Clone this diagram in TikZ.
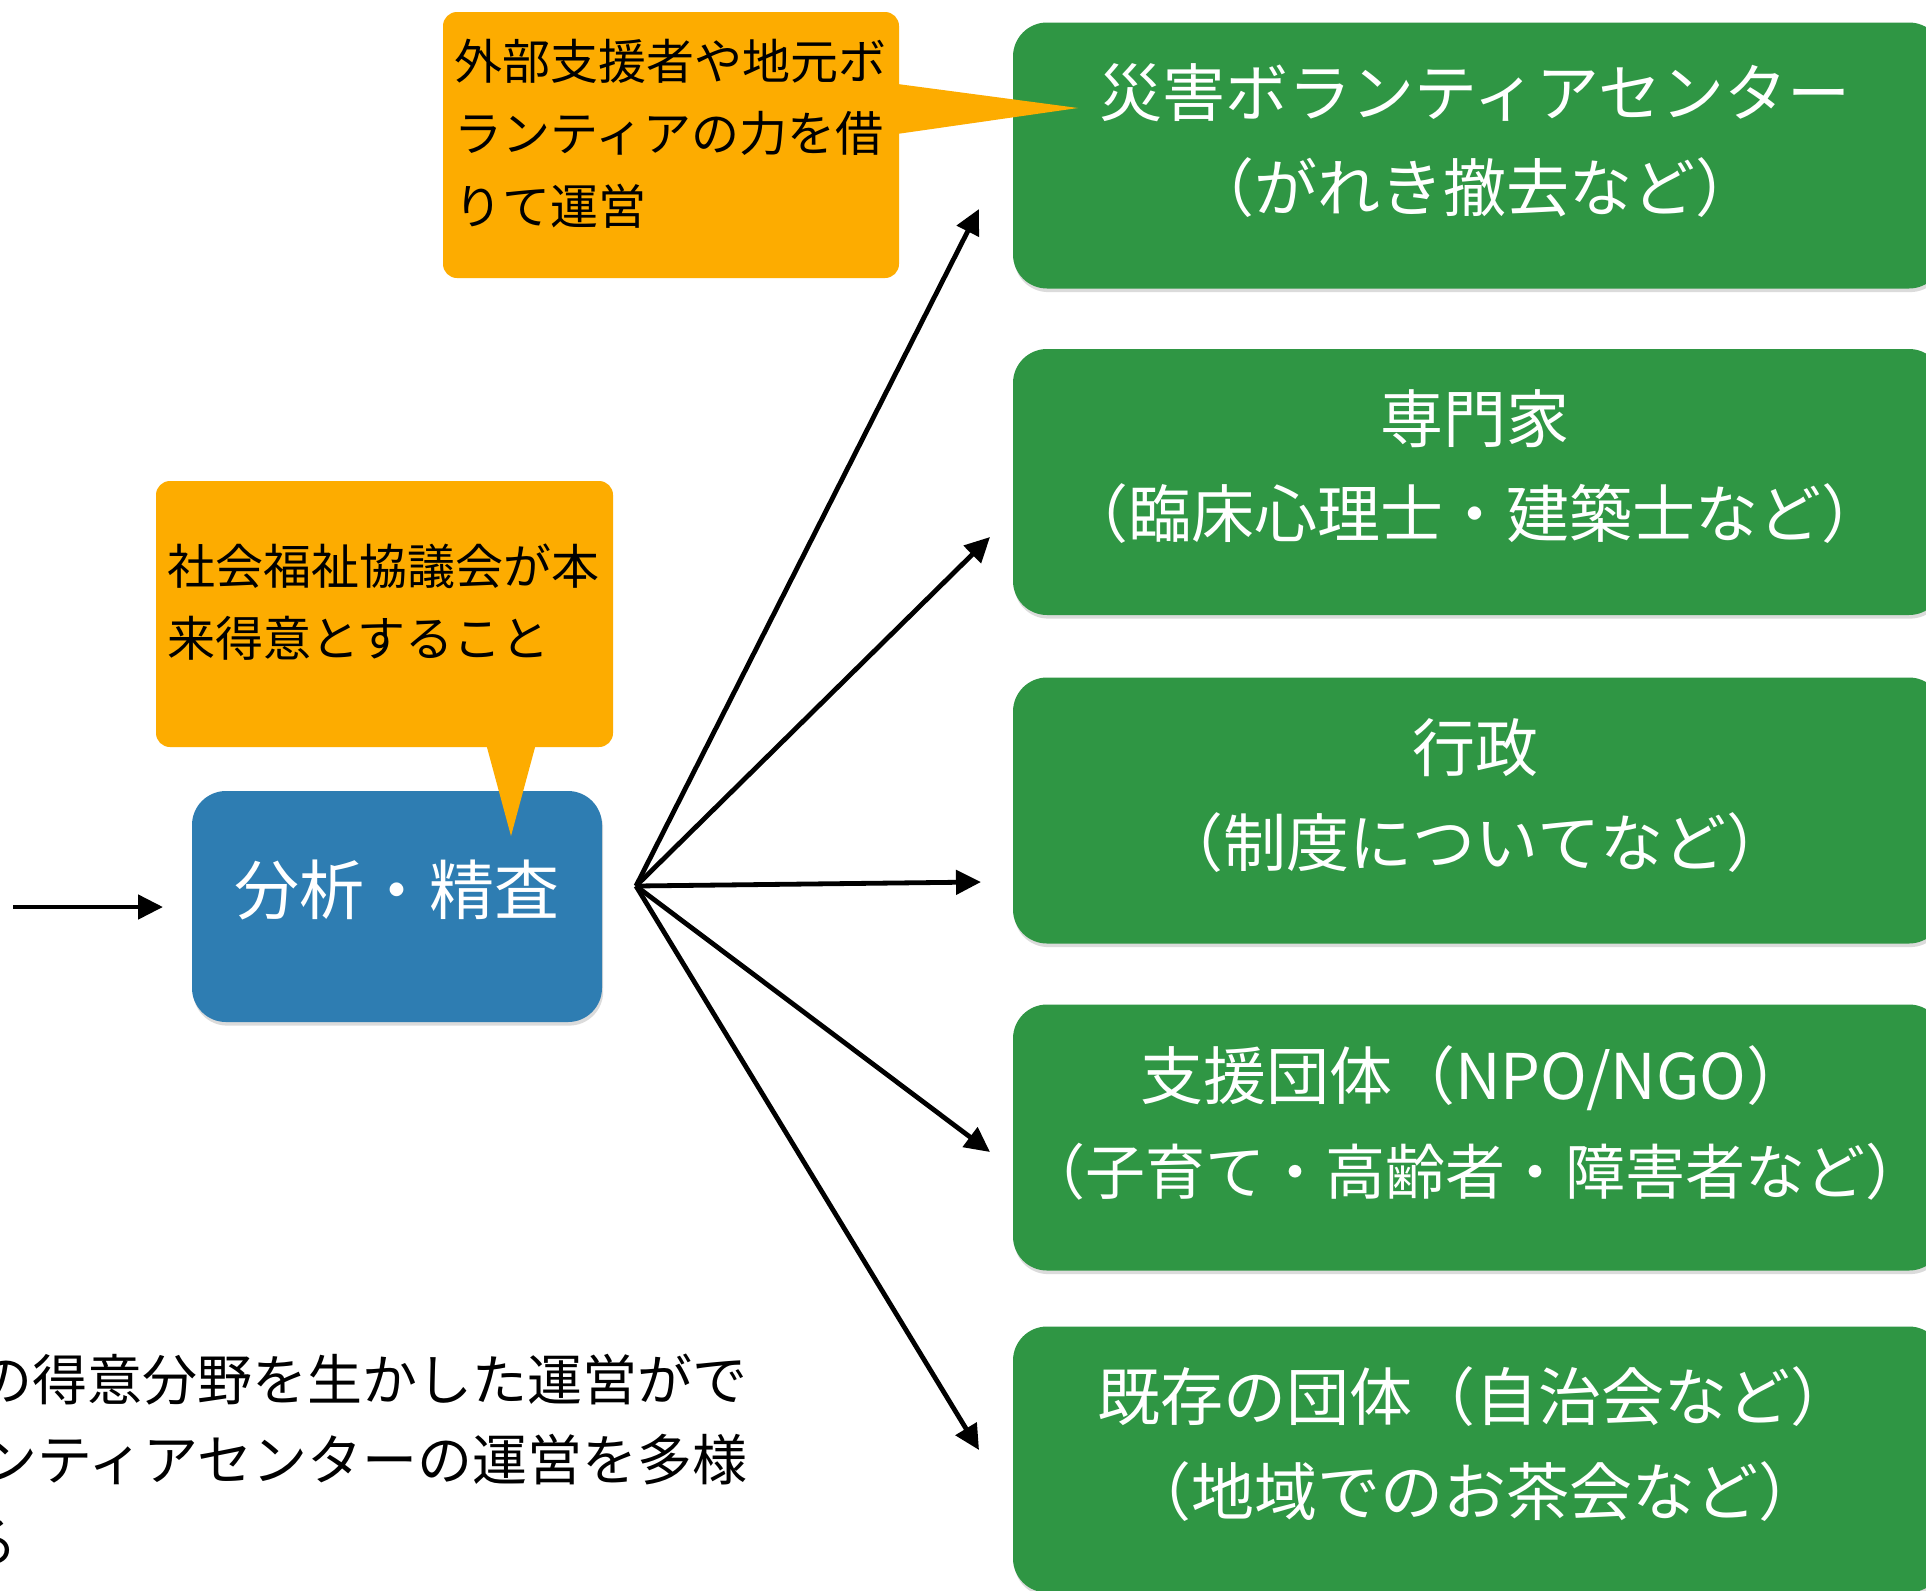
\documentclass[tikz,border=0pt]{standalone}
\usepackage{fontspec}
\setmainfont{Noto Sans CJK JP}
\usetikzlibrary{arrows.meta,shadows}
\definecolor{boxgreen}{RGB}{47,150,68}
\definecolor{boxblue}{RGB}{46,125,178}
\definecolor{callorange}{RGB}{253,172,0}
\tikzset{
  gbox/.style={rectangle, rounded corners=17pt, fill=boxgreen, minimum width=465pt,
    minimum height=133pt, inner sep=0pt,
    drop shadow={shadow xshift=0.6pt, shadow yshift=-1.8pt, opacity=0.28}},
  gtext/.style={text=white, align=center, inner sep=0pt,
    font=\fontsize{31.5pt}{47.5pt}\selectfont},
  bbox/.style={rectangle, rounded corners=17pt, fill=boxblue, minimum width=205pt,
    minimum height=115.5pt, inner sep=0pt,
    drop shadow={shadow xshift=0.6pt, shadow yshift=-1.8pt, opacity=0.28}},
  btxt/.style={text=white, inner sep=0pt, font=\fontsize{32.5pt}{40pt}\selectfont},
  obox/.style={rectangle, rounded corners=7pt, fill=callorange, minimum width=228pt,
    minimum height=133pt, inner sep=0pt},
  otext/.style={text=black, align=left, inner sep=0pt, anchor=west,
    font=\fontsize{24pt}{36.25pt}\selectfont},
  plain/.style={text=black, inner sep=0pt, font=\fontsize{27.5pt}{40pt}\selectfont},
  arr/.style={line width=2.4pt, -{Triangle[length=12.5pt,width=12pt]}}
}
\begin{document}
\begin{tikzpicture}[x=0.5pt,y=-0.5pt]
\useasboundingbox (0,0) rectangle (1926,1590);
\clip (0,0) rectangle (1926,1590);
\fill[white] (0,0) rectangle (1926,1590);

% green boxes
\node[gbox] (g1) at (1478,155.5) {};
\node[gbox] (g2) at (1478,482) {};
\node[gbox] (g3) at (1478,810.5) {};
\node[gbox] (g4) at (1478,1137.5) {};
\node[gbox] (g5) at (1478,1459.5) {};
\node[gtext] (g1t) at (1475,140.5) {災害ボランティアセンター\\（がれき撤去など）};
\node[gtext] (g2t) at (1475,467) {専門家\\（臨床心理士・建築士など）};
\node[gtext] (g3t) at (1475,795.5) {行政\\（制度についてなど）};
\node[gtext] (g4t) at (1475,1122.5) {支援団体（NPO/NGO）\\{\fontsize{30pt}{47.5pt}\selectfont（子育て・高齢者・障害者など）}};
\node[gtext] (g5t) at (1475,1444.5) {既存の団体（自治会など）\\（地域でのお茶会など）};

% blue box
\node[bbox] (blue) at (397,906.5) {};
\node[btxt] (bluet) at (396.5,890) {分析・精査};

% callout 1
\node[obox] (c1) at (671,145) {};
\fill[callorange] (890,83) -- (1078,108) -- (890,135) -- cycle;
\node[otext] (c1t) at (454,133.5) {外部支援者や地元ボ\\ランティアの力を借\\りて運営};

% callout 2
\node[obox, minimum width=228.5pt] (c2) at (384.5,614) {};
\fill[callorange] (485,740) -- (511,836) -- (537,740) -- cycle;
\node[otext] (c2t) at (167,602) {社会福祉協議会が本\\来得意とすること};

% arrows
\coordinate (src) at (13,907);
\coordinate (t0) at (163,907);
\draw[arr] (src) -- (t0);
\coordinate (hub) at (636,886);
\coordinate (t1) at (979,209);
\coordinate (t2) at (990,537);
\coordinate (t3) at (981,882);
\coordinate (t4) at (990,1152);
\coordinate (t5) at (979,1450);
\draw[arr] (hub) -- (t1);
\draw[arr] (hub) -- (t2);
\draw[arr] (hub) -- (t3);
\draw[arr] (hub) -- (t4);
\draw[arr] (hub) -- (t5);

% bottom text (cut off at left edge, as in the reference)
\node[plain, anchor=east] (b1) at (748,1380) {の得意分野を生かした運営がで};
\node[plain, anchor=east] (b2) at (748,1460) {ンティアセンターの運営を多様};
\node[plain, anchor=east] (b3) at (18,1543) {る};
\end{tikzpicture}
\end{document}
